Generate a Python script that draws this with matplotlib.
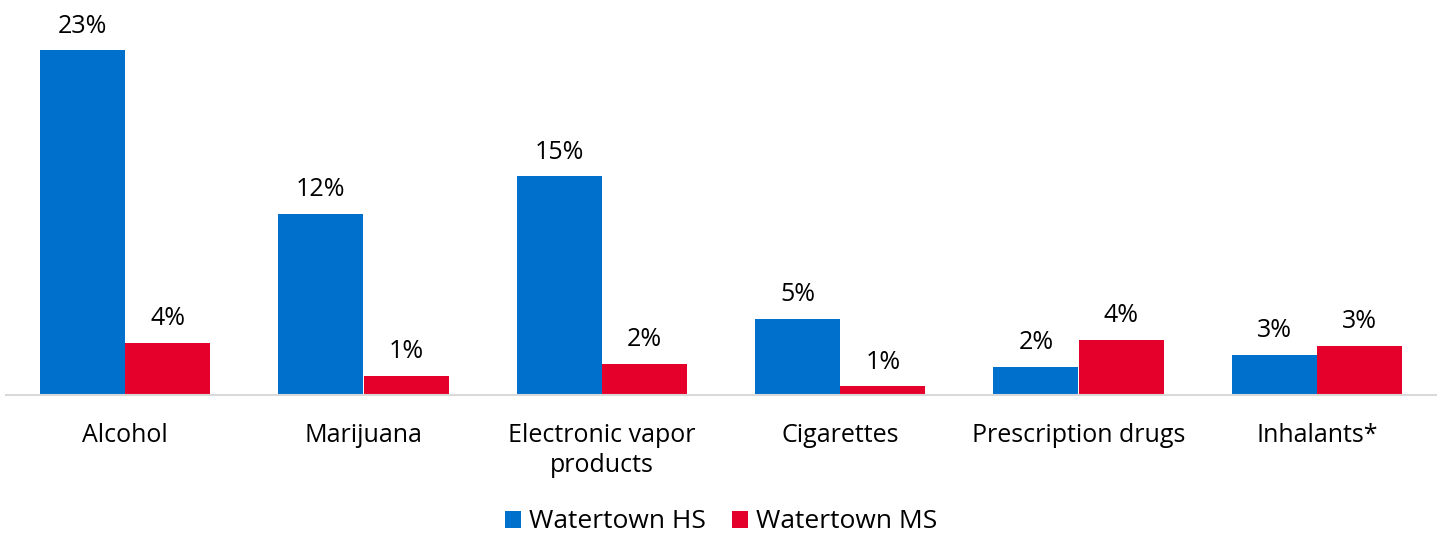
import matplotlib.pyplot as plt
import numpy as np

# data
categories = ["Alcohol", "Marijuana", "Electronic vapor\nproducts", "Cigarettes",
              "Prescription drugs", "Inhalants*"]
hs_values = [23.0, 12.1, 14.6, 5.1, 1.9, 2.7]
ms_values = [3.5, 1.3, 2.1, 0.6, 3.7, 3.3]
hs_labels = ["23%", "12%", "15%", "5%", "2%", "3%"]
ms_labels = ["4%", "1%", "2%", "1%", "4%", "3%"]
series_names = ["Watertown HS", "Watertown MS"]

HS_COLOR = "#0070CD"
MS_COLOR = "#E4002B"
FS = 18

plt.rcParams["font.family"] = ["Open Sans", "DejaVu Sans"]

fig = plt.figure(figsize=(14.42, 5.38), dpi=100)
ax = fig.add_axes([6 / 1442, 143 / 538, 1430 / 1442, 390 / 538])

x = np.arange(len(categories))
width = 0.358

bars_hs = ax.bar(x - width / 2, hs_values, width, color=HS_COLOR, label=series_names[0])
bars_ms = ax.bar(x + width / 2, ms_values, width, color=MS_COLOR, label=series_names[1])

for bars, labels in ((bars_hs, hs_labels), (bars_ms, ms_labels)):
    for b, lab in zip(bars, labels):
        ax.annotate(lab, (b.get_x() + b.get_width() / 2, b.get_height()),
                    xytext=(0, 8), textcoords="offset points",
                    ha="center", va="bottom", fontsize=FS, color="#000000")

ax.set_xlim(-0.5, len(categories) - 0.5)
ax.set_ylim(0, 26)
ax.set_yticks([])
ax.set_xticks(x)
ax.set_xticklabels(categories, fontsize=FS, linespacing=1.3)
ax.tick_params(axis="x", length=0, pad=20)

for s in ("top", "right", "left"):
    ax.spines[s].set_visible(False)
ax.spines["bottom"].set_color("#d9d9d9")
ax.spines["bottom"].set_linewidth(1.5)

fig.legend(handles=[bars_hs, bars_ms], labels=series_names, loc="center",
           bbox_to_anchor=(721 / 1442, 1 - 522 / 538), ncol=2, frameon=False,
           fontsize=19, handlelength=0.6, handleheight=0.6, handletextpad=0.3,
           columnspacing=1.0)

fig.savefig("out.png", dpi=100)
